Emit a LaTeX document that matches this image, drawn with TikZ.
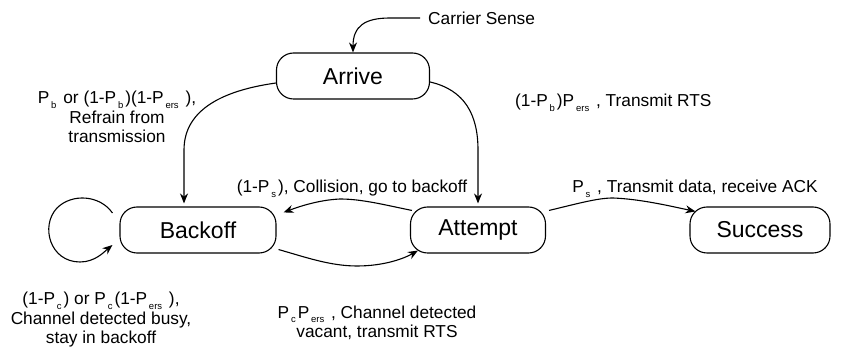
\documentclass[tikz,border=0pt]{standalone}
\usepackage{fontspec}
\setmainfont{Liberation Sans}
\usetikzlibrary{arrows.meta,calc}
\newcommand\sbx[1]{\kern1.8pt\raisebox{-4.5pt}{\fontsize{9.5}{9.5}\selectfont #1}\kern2pt\relax}
\begin{document}
\begin{tikzpicture}[x=1pt,y=-1pt,
  state/.style={draw, line width=1.1pt, rounded corners=17pt, minimum height=46pt, font=\fontsize{23}{25}\selectfont, inner sep=0pt},
  lbl/.style={font=\fontsize{17.3}{19.5}\selectfont, align=center, inner sep=0pt},
  edge/.style={line width=1.1pt, -{Stealth[length=10pt,width=8pt]}}]
\useasboundingbox (0,0) rectangle (847,363);
\node[state, minimum width=153pt] (arrive) at (353,76) {Arrive};
\node[state, minimum width=156pt] (backoff) at (198,230) {Backoff};
\node[state, minimum width=135pt] (attempt) at (478,230) {Attempt};
\node[state, minimum width=140pt] (success) at (760,230) {Success};
\node[lbl, anchor=west] (carrier) at (428,18) {Carrier Sense};
\draw[edge] ($(carrier.west)+(-8,0)$) -- (390,18) .. controls (365,18) and (353,26) .. (arrive.north);
% Arrive -> Backoff
\draw[edge, shorten >=3pt] ($(arrive.west)+(0,7)$) .. controls (226,90) and (184,108) .. (184,150) -- ($(backoff.north)+(-14,0)$);
% Arrive -> Attempt
\draw[edge, shorten >=3pt] ($(arrive.east)+(0,6)$) .. controls (465,90) and (478,115) .. (478,150) -- (attempt.north);
% Attempt -> Backoff
\draw[edge] ($(attempt.north west)+(2,4)$) .. controls (385,205) and (362,199) .. (340,199) .. controls (318,200) and (298,207) .. ($(backoff.north east)+(7,6)$);
% Attempt -> Success
\draw[edge] ($(attempt.north east)+(3,4)$) .. controls (580,203) and (598,198) .. (613,198) .. controls (640,199) and (670,206) .. ($(success.north west)+(6,5)$);
% Backoff -> Attempt
\draw[edge] ($(backoff.south east)+(2,-4)$) .. controls (305,257) and (330,266) .. (357,266) .. controls (385,266) and (405,258) .. ($(attempt.south west)+(8,-3)$);
% self loop
\draw[edge] ($(backoff.west)+(-7,-17)$) .. controls (100,195) and (72,193) .. (57,208) .. controls (40,226) and (50,262) .. (80,262) .. controls (95,262) and (104,252) .. ($(backoff.west)+(-7,15)$);
% labels
\node[lbl] (lab1) at (117,117) {P\sbx{b} or (1-P\sbx{b})(1-P\sbx{ers} ),\\Refrain from\\transmission};
\node[lbl, anchor=west] (lab2) at (515,103) {(1-P\sbx{b})P\sbx{ers} , Transmit RTS};
\node[lbl] (lab3) at (352,189) {(1-P\sbx{s}), Collision, go to backoff};
\node[lbl] (lab4) at (695,189) {P\sbx{s} , Transmit data, receive ACK};
\node[lbl] (lab5) at (101,320) {(1-P\sbx{c}) or P\sbx{c}(1-P\sbx{ers} ),\\Channel detected busy,\\stay in backoff};
\node[lbl] (lab6) at (377,323) {P\sbx{c}P\sbx{ers} , Channel detected\\vacant, transmit RTS};
\end{tikzpicture}
\end{document}
